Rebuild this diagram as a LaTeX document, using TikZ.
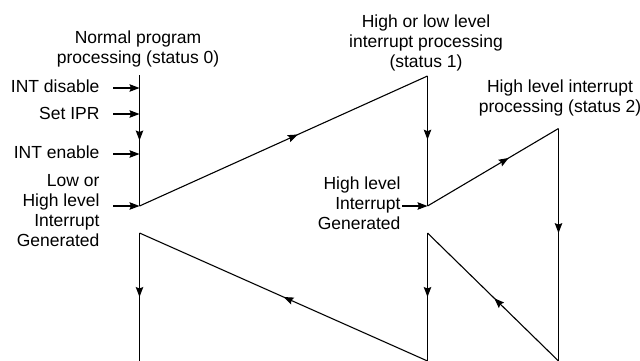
\documentclass[tikz,border=0pt]{standalone}
\usepackage{fontspec}
\setmainfont{Liberation Sans}
\usetikzlibrary{arrows.meta,decorations.markings}
\begin{document}
\begin{tikzpicture}[x=1pt,y=-1pt,
  line width=1.1pt,
  tipA/.tip={Stealth[length=10pt,width=7.5pt,inset=1.5pt]},
  lbl/.style={inner sep=0pt,font=\fontsize{17.5}{20}\selectfont},
  midarrow/.style={postaction={decorate},decoration={markings,mark=at position #1 with {\arrow{tipA}}}},
  inarrow/.style={-{tipA}}
]
\useasboundingbox (0,0) rectangle (640,360);
% coordinates
\coordinate (A0) at (139.5,75);
\coordinate (A1) at (139.5,206);
\coordinate (B0) at (427.5,76);
\coordinate (B1) at (427.5,206);
\coordinate (C0) at (558.5,128.5);
\coordinate (C1) at (558.5,361);
\coordinate (B2) at (427.5,233);
\coordinate (B3) at (427.5,361);
\coordinate (A2) at (139.5,233);
\coordinate (A3) at (139.5,361);
% labels (base anchor = baseline of last line)
\node[lbl,anchor=base,align=center] (s0) at (138,63.3) {Normal program\\processing (status 0)};
\node[lbl,anchor=base,align=center] (s1) at (426,67) {High or low level\\interrupt processing\\(status 1)};
\node[lbl,anchor=base,align=center] (s2) at (560,112.7) {High level interrupt\\processing (status 2)};
\node[lbl,anchor=base east] (dis) at (100,92.7) {INT disable};
\node[lbl,anchor=base east] (ipr) at (100,119) {Set IPR};
\node[lbl,anchor=base east] (ena) at (100,158.3) {INT enable};
\node[lbl,anchor=base east,align=right] (gen0) at (100,246) {Low or\\High level\\Interrupt\\Generated};
\node[lbl,anchor=base east,align=right] (gen1) at (401,229) {High level\\Interrupt\\Generated};
% input arrows
\coordinate (d0) at (113,88); \coordinate (d1) at (139.5,88);
\coordinate (i0) at (113,114); \coordinate (i1) at (139.5,114);
\coordinate (e0) at (113,154); \coordinate (e1) at (139.5,154);
\coordinate (g0) at (113,206);
\coordinate (h0) at (402,206);
\draw[inarrow] (d0) -- (d1);
\draw[inarrow] (i0) -- (i1);
\draw[inarrow] (e0) -- (e1);
\draw[inarrow] (g0) -- (A1);
\draw[inarrow] (h0) -- (B1);
% flow
\draw[midarrow=0.5] (A0) -- (A1);
\draw[midarrow=0.55] (A1) -- (B0);
\draw[midarrow=0.49] (B0) -- (B1);
\draw[midarrow=0.62] (B1) -- (C0);
\draw[midarrow=0.45] (C0) -- (C1);
\draw[midarrow=0.49] (C1) -- (B2);
\draw[midarrow=0.5] (B2) -- (B3);
\draw[midarrow=0.5] (B3) -- (A2);
\draw[midarrow=0.5] (A2) -- (A3);
\end{tikzpicture}
\end{document}
